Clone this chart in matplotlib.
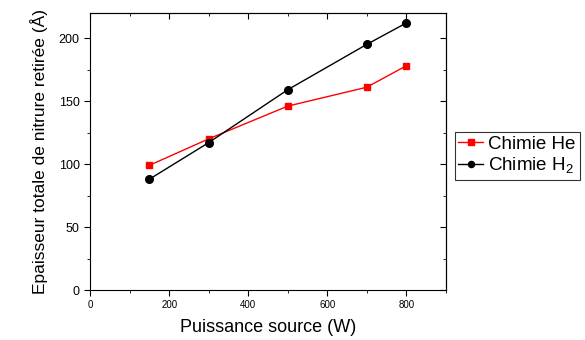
import matplotlib
matplotlib.use("Agg")
import matplotlib.pyplot as plt
from matplotlib.ticker import MultipleLocator

plt.rcParams['font.family'] = ['Liberation Sans', 'DejaVu Sans']
plt.rcParams['mathtext.fontset'] = 'custom'
plt.rcParams['mathtext.rm'] = 'Liberation Sans'

power = [150, 300, 500, 700, 800]
he_vals = [99, 120, 146, 161, 178]
h2_vals = [88, 117, 159, 195, 212]
xticks = [0, 200, 400, 600, 800]
yticks = [0, 50, 100, 150, 200]

fig = plt.figure(figsize=(5.85, 3.4), dpi=100)
ax = fig.add_axes([0.154, 0.147, 0.608, 0.815])

ax.plot(power, he_vals, color='red', marker='s', markersize=5, linewidth=1, label='Chimie He')
ax.plot(power, h2_vals, color='black', marker='o', markersize=5.5, linewidth=1, label='Chimie H$_\\mathrm{2}$')

ax.set_xlim(0, 900)
ax.set_ylim(0, 220)
ax.set_xticks(xticks)
ax.set_yticks(yticks)
ax.xaxis.set_minor_locator(MultipleLocator(100))
ax.yaxis.set_minor_locator(MultipleLocator(25))
ax.tick_params(axis='x', which='major', labelsize=7, direction='out', length=4, top=False)
ax.tick_params(axis='y', which='major', labelsize=9, direction='out', length=4, right=False)
ax.tick_params(axis='x', which='minor', direction='out', length=2.5)
ax.tick_params(axis='y', which='minor', direction='out', length=2.5)

# mirrored inward ticks on top and right
axt = ax.secondary_xaxis('top')
axt.set_xticks(xticks)
axt.xaxis.set_minor_locator(MultipleLocator(100))
axt.tick_params(which='major', direction='in', length=4, labeltop=False)
axt.tick_params(which='minor', direction='in', length=2.5)
axr = ax.secondary_yaxis('right')
axr.set_yticks(yticks)
axr.yaxis.set_minor_locator(MultipleLocator(25))
axr.tick_params(which='major', direction='in', length=4, labelright=False)
axr.tick_params(which='minor', direction='in', length=2.5)

ax.set_xlabel('Puissance source (W)', fontsize=13, labelpad=6)
ax.set_ylabel('Epaisseur totale de nitrure retirée (Å)', fontsize=12.5, labelpad=8)

leg = ax.legend(loc='center left', bbox_to_anchor=(1.025, 0.484), fontsize=13.5,
                frameon=True, fancybox=False, edgecolor='black', handlelength=1.3,
                handletextpad=0.3, borderpad=0.2, labelspacing=0.15, borderaxespad=0,
                markerscale=0.8)
leg.get_frame().set_linewidth(0.8)

fig.savefig('out.png', dpi=100)
